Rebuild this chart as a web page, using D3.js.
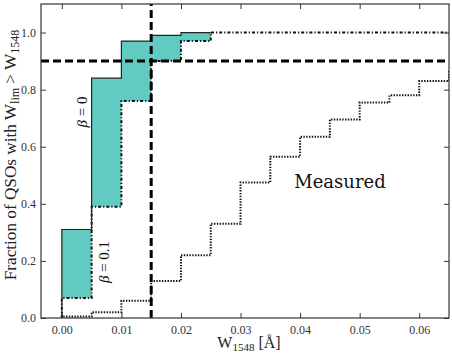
<!DOCTYPE html>
<html><head><meta charset="utf-8">
<script src="https://cdn.jsdelivr.net/npm/d3@7"></script>
<style>
html,body{margin:0;padding:0;background:#fff;}
svg{display:block;font-family:"Liberation Serif","Times New Roman",serif;}
</style></head>
<body><svg id="c" width="452" height="360"></svg>
<script>
// ---- data ----
const binEdges = [0, 0.005, 0.01, 0.015, 0.02, 0.025, 0.03, 0.035, 0.04, 0.045, 0.05, 0.055, 0.06, 0.065, 0.07];
const beta0 = [0.31, 0.84, 0.97, 0.99, 1.0];
const beta01 = [0.07, 0.39, 0.76, 0.90, 0.97, 1.0, 1.0, 1.0, 1.0, 1.0, 1.0, 1.0, 1.0, 1.0];
const measured = [0.005, 0.02, 0.06, 0.13, 0.22, 0.33, 0.475, 0.565, 0.635, 0.695, 0.755, 0.78, 0.83, 0.862];
const xTicks = [0.00, 0.01, 0.02, 0.03, 0.04, 0.05, 0.06];
const yTicks = [0.0, 0.2, 0.4, 0.6, 0.8, 1.0];
const completenessLevel = 0.9;
const limitW = 0.015;
const xDomain = [-0.0035, 0.065];
const yDomain = [0, 1.1];

// ---- layout ----
const svg = d3.select("#c");
const L = 41, R = 449, T = 4, B = 318;
const x = d3.scaleLinear().domain(xDomain).range([L, R]);
const y = d3.scaleLinear().domain(yDomain).range([B, T]);

svg.append("defs").append("clipPath").attr("id","clip")
  .append("rect").attr("x",L).attr("y",T).attr("width",R-L).attr("height",B-T);
const g = svg.append("g").attr("clip-path","url(#clip)");

function stepPts(vals){
  const p = vals.map((v,i)=>[binEdges[i], v]);
  p.push([binEdges[vals.length], vals[vals.length-1]]);
  return p;
}
const nFill = beta0.length;
const fillPts = d3.range(nFill+1).map(i => ({
  x: binEdges[i],
  hi: beta0[Math.min(i, nFill-1)],
  lo: beta01[Math.min(i, nFill-1)]
}));
const area = d3.area().curve(d3.curveStepAfter)
  .x(d=>x(d.x)).y0(d=>y(d.lo)).y1(d=>y(d.hi));
g.append("path").datum(fillPts).attr("d", area)
  .attr("fill","#62cbc1").attr("stroke","none");

const line = d3.line().curve(d3.curveStepAfter).x(d=>x(d[0])).y(d=>y(d[1]));

// measured (dotted)
g.append("path").datum([[binEdges[0], 0]].concat(stepPts(measured)))
  .attr("d", line).attr("fill","none").attr("stroke","#111")
  .attr("stroke-width",2).attr("stroke-dasharray","1.4,1.4");

// beta = 0.1 (dash-dot)
g.append("path").datum([[binEdges[0], 0]].concat(stepPts(beta01)))
  .attr("d", line).attr("fill","none").attr("stroke","#111")
  .attr("stroke-width",2).attr("stroke-dasharray","3,2,1.2,2");

// beta = 0 (solid)
g.append("path").datum([[binEdges[0], 0]].concat(stepPts(beta0)))
  .attr("d", line).attr("fill","none").attr("stroke","#222")
  .attr("stroke-width",1.2);

// thick dashed reference lines
g.append("line").attr("x1",L).attr("x2",R)
  .attr("y1",y(completenessLevel)).attr("y2",y(completenessLevel))
  .attr("stroke","#000").attr("stroke-width",3).attr("stroke-dasharray","8,4");
g.append("line").attr("y1",B).attr("y2",T)
  .attr("x1",x(limitW)).attr("x2",x(limitW))
  .attr("stroke","#000").attr("stroke-width",3).attr("stroke-dasharray","8,4");

// ---- axes (ticks inward, all sides) ----
const tk = 5;
const xb = svg.append("g").attr("transform",`translate(0,${B})`)
  .call(d3.axisBottom(x).tickValues(xTicks).tickSizeInner(-tk).tickSizeOuter(0).tickPadding(7).tickFormat(d3.format(".2f")));
const xt = svg.append("g").attr("transform",`translate(0,${T})`)
  .call(d3.axisTop(x).tickValues(xTicks).tickSizeInner(-tk).tickSizeOuter(0).tickFormat(""));
const yl = svg.append("g").attr("transform",`translate(${L},0)`)
  .call(d3.axisLeft(y).tickValues(yTicks).tickSizeInner(-tk).tickSizeOuter(0).tickPadding(5).tickFormat(d3.format(".1f")));
const yr = svg.append("g").attr("transform",`translate(${R},0)`)
  .call(d3.axisRight(y).tickValues(yTicks).tickSizeInner(-tk).tickSizeOuter(0).tickFormat(""));
[xb,xt,yl,yr].forEach(a=>{
  a.select(".domain").remove();
  a.selectAll("line").attr("stroke","#333").attr("stroke-width",1);
  a.selectAll("text").style("font-family","'Liberation Serif', serif").style("font-size","12px").attr("fill","#333");
});
svg.append("rect").attr("x",L).attr("y",T).attr("width",R-L).attr("height",B-T)
  .attr("fill","none").attr("stroke","#333").attr("stroke-width",1.2);

// ---- labels ----
const xl = svg.append("text").attr("x",(L+R)/2+4).attr("y",348).attr("text-anchor","middle")
  .style("font-size","16px").attr("fill","#222");
xl.append("tspan").text("W");
xl.append("tspan").text("1548").style("font-size","11px").attr("dy",3);
xl.append("tspan").text(" [Å]").style("font-size","16px").attr("dy",-3);

const ylab = svg.append("text").attr("transform",`translate(16,155) rotate(-90)`)
  .attr("text-anchor","middle").style("font-size","17.2px").attr("fill","#222");
ylab.append("tspan").text("Fraction of QSOs with W");
ylab.append("tspan").text("lim").style("font-size","12px").attr("dy",3);
ylab.append("tspan").text(" > W").style("font-size","17.2px").attr("dy",-3);
ylab.append("tspan").text("1548").style("font-size","12px").attr("dy",3);

function betaLabel(cx, cy, val){
  const t = svg.append("text").attr("transform",`translate(${cx},${cy}) rotate(-90)`)
    .attr("text-anchor","middle").attr("dy","0.35em").style("font-size","15px").attr("fill","#111");
  t.append("tspan").text("β").style("font-style","italic");
  t.append("tspan").text(" = " + val);
}
betaLabel(82, 112, "0");
betaLabel(104, 262, "0.1");

svg.append("text").attr("x",340).attr("y",188).attr("text-anchor","middle")
  .style("font-family","'DejaVu Serif', serif").style("font-size","18px").attr("fill","#111").text("Measured");
</script></body></html>
